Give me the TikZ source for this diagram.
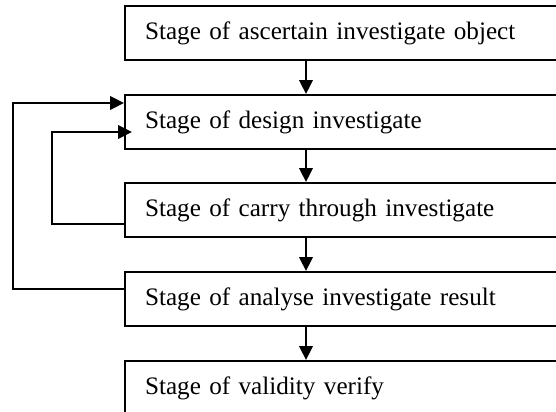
\documentclass[tikz,border=0pt]{standalone}
\usepackage{fontspec}
\setmainfont{Liberation Serif}
\usetikzlibrary{arrows.meta}

\begin{document}
\begin{tikzpicture}[x=0.465pt,y=-0.465pt,
    stagebox/.style={draw, line width=0.95pt, anchor=north west,
        minimum height=25.1pt, text width=202.4pt, inner xsep=9.3pt,
        align=left, font=\fontsize{11.7}{14}\selectfont},
    flow/.style={line width=0.95pt, -{Triangle[width=6.2pt,length=6.4pt]}}]
    \useasboundingbox (0,0) rectangle (556,412);
    \clip (0,0) rectangle (556,412);

    % the five stages
    \node[stagebox] (obj) at (124,5)   {Stage of ascertain investigate object};
    \node[stagebox] (des) at (124,94)  {Stage of design investigate};
    \node[stagebox] (car) at (124,182) {Stage of carry through investigate};
    \node[stagebox] (ana) at (124,271) {Stage of analyse investigate result};
    \node[stagebox] (val) at (124,360) {Stage of validity verify};

    % main flow
    \coordinate (ax) at (306,0);
    \foreach \a/\b in {obj/des,des/car,car/ana,ana/val}
        {\draw[flow] (\a.south -| ax) -- (\b.north -| ax);}

    % feedback loops
    \coordinate (outtop) at (13,103);
    \coordinate (outbot) at (13,289);
    \draw[flow] (ana.west |- outbot) -- (outbot) -- (outtop) -- (des.west |- outtop);

    \coordinate (intop) at (52,132);
    \coordinate (inbot) at (52,224);
    \coordinate (intip) at (132,132);
    \draw[flow] (car.west |- inbot) -- (inbot) -- (intop) -- (intip);
\end{tikzpicture}
\end{document}
